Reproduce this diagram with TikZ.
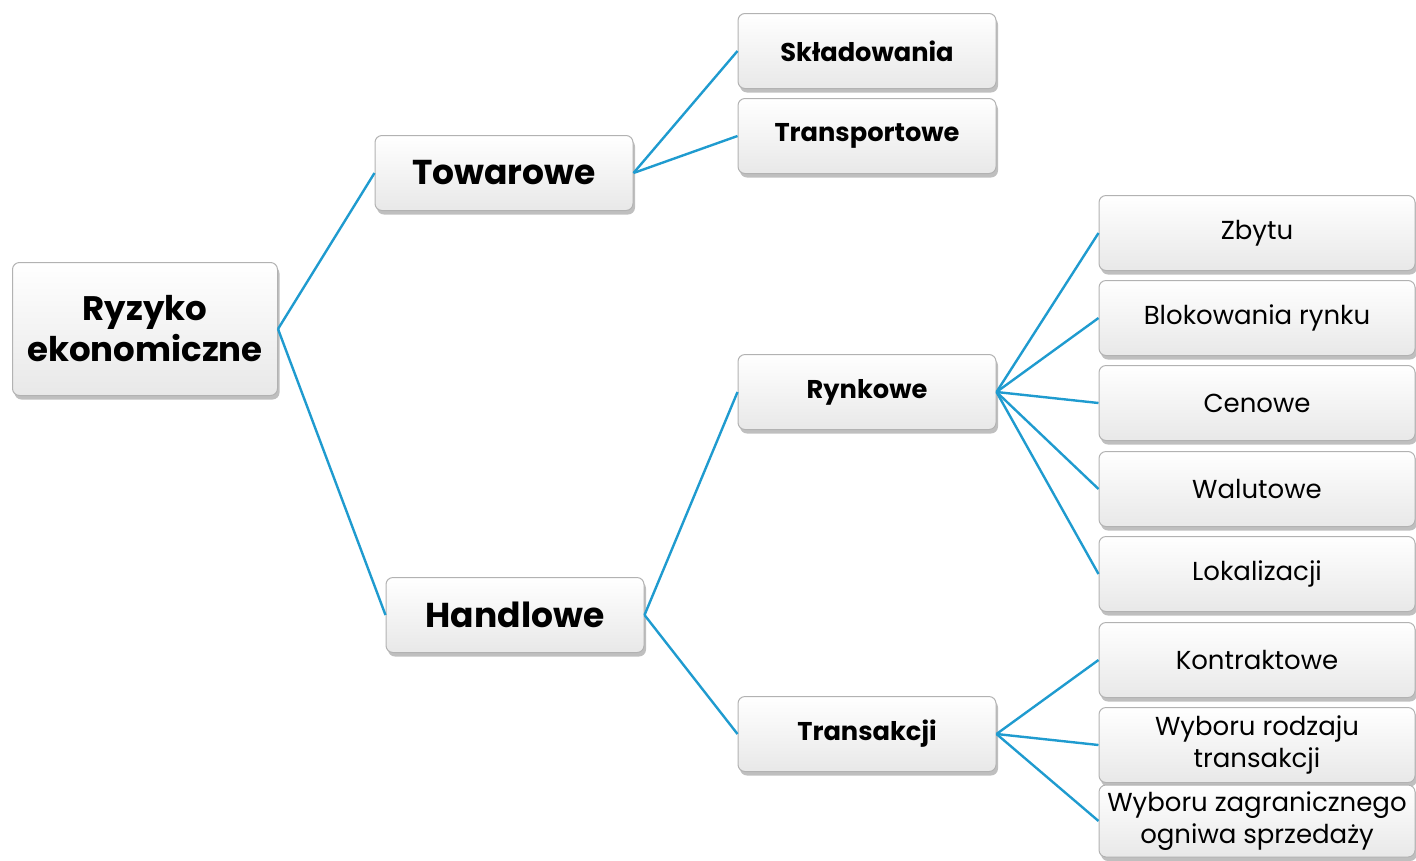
\documentclass[tikz,border=0pt]{standalone}
\usepackage{fontspec}
\setmainfont{Poppins}
\usetikzlibrary{shadows}
\definecolor{linkblue}{HTML}{1F9BCF}
\tikzset{
  box/.style={draw=gray!60, line width=1pt, rounded corners=7pt, top color=white, bottom color=gray!18,
    drop shadow={opacity=0.5, shadow xshift=2pt, shadow yshift=-4pt},
    minimum height=75pt, inner sep=1pt, align=center, text=black},
  link/.style={draw=linkblue, line width=2.4pt},
  lvlA/.style={box, minimum width=265pt, font=\fontsize{34}{41}\selectfont\bfseries},
  lvlB/.style={box, minimum width=258pt, font=\fontsize{34.5}{41}\selectfont\bfseries},
  lvlC/.style={box, minimum width=258pt, font=\fontsize{25.7}{31}\selectfont\bfseries},
  lvlD/.style={box, minimum width=316pt, font=\fontsize{26}{31.5}\selectfont},
}
\begin{document}
\begin{tikzpicture}[x=1pt,y=-1pt]
\useasboundingbox (0,0) rectangle (1416,860);
\node[lvlA, minimum height=133pt] (root) at (145,329) {Ryzyko\\ekonomiczne};
\node[lvlB] (tow) at (504,173) {Towarowe};
\node[lvlB] (han) at (515,615) {Handlowe};
\node[lvlC] (skl) at (867,51) {Składowania};
\node[lvlC] (tra) at (867,136) {Transportowe};
\node[lvlC] (ryn) at (867,392) {Rynkowe};
\node[lvlC] (trs) at (867,734) {Transakcji};
\node[lvlD] (zby) at (1257,233) {Zbytu};
\node[lvlD] (blo) at (1257,318) {Blokowania rynku};
\node[lvlD] (cen) at (1257,403) {Cenowe};
\node[lvlD] (wal) at (1257,489) {Walutowe};
\node[lvlD] (lok) at (1257,574) {Lokalizacji};
\node[lvlD] (kon) at (1257,660) {Kontraktowe};
\node[lvlD] (wyr) at (1257,745) {Wyboru rodzaju\\transakcji};
\node[lvlD, minimum height=72pt] (wyz) at (1257,821) {Wyboru zagranicznego\\ogniwa sprzedaży};
\foreach \a/\b in {root/tow, root/han, tow/skl, tow/tra, han/ryn, han/trs,
  ryn/zby, ryn/blo, ryn/cen, ryn/wal, ryn/lok, trs/kon, trs/wyr, trs/wyz}
  \draw[link] (\a.east) -- (\b.west);
\end{tikzpicture}
\end{document}
